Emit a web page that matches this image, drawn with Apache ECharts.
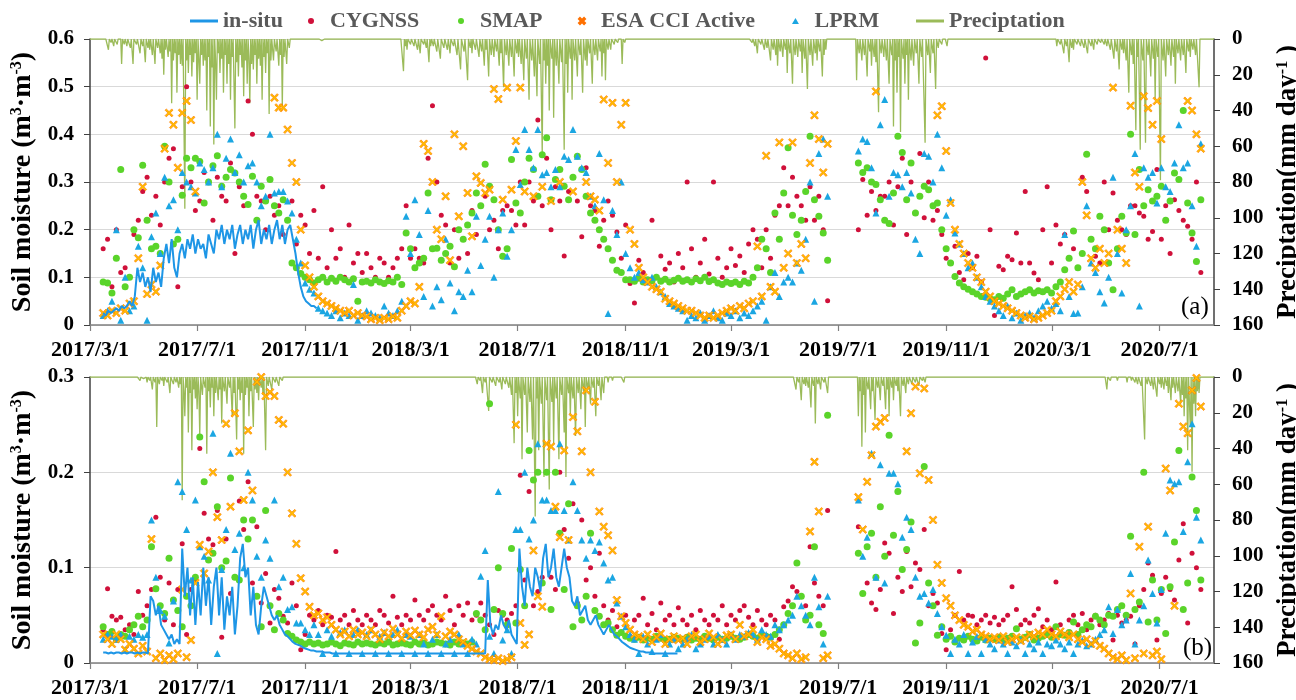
<!DOCTYPE html>
<html><head><meta charset="utf-8">
<script src="https://cdn.jsdelivr.net/npm/echarts@6/dist/echarts.min.js"></script>
<style>html,body{margin:0;padding:0;background:#fff}#c{width:1296px;height:700px}</style>
</head><body><div id="c"></div>
<script>
// ---------- tick labels ----------
const tickLabels = ['2017/3/1','2017/7/1','2017/11/1','2018/3/1','2018/7/1','2018/11/1','2019/3/1','2019/7/1','2019/11/1','2020/3/1','2020/7/1'];
const axisEnd = '2020/9/1';
const legendNames = ['in-situ','CYGNSS','SMAP','ESA CCI Active','LPRM','Preciptation'];
// satellite series: one value every 5 days starting 15 days after 2017/3/1
const satStart = 15, satStep = 5;
// in-situ: one value every 3 days starting 15 days after 2017/3/1
const insStart = 15, insStep = 3;

// ---------- panel (a) ----------
const cygnssA = [
.16,.18,.08,.2,.11,.12,.1,.19,.22,.28,.31,.23,
.27,.21,.3,.35,.37,.08,.29,.5,.3,.24,.26,.32,
.3,.22,.31,.27,.26,.34,.15,.29,.25,.47,.4,.27,
.26,.2,.27,.23,.25,.19,.22,.26,.17,.23,.21,.15,
.24,.14,.29,.12,.2,.14,.16,.1,.21,.13,.15,.11,
.15,.12,.1,.14,.13,.1,.12,.14,.16,.25,.14,.16,
.14,.13,.35,.46,.3,.23,.21,.13,.2,.14,.18,.15,
.24,.19,.25,.27,.2,.22,.16,.24,.25,.24,.21,.3,
.21,.3,.26,.43,.25,.35,.2,.29,.26,.145,.28,.31,
.26,.185,.33,.25,.24,.165,.22,.26,.23,.195,.14,.21,
.087,.046,.136,.11,.09,.22,.1,.145,.117,.13,.09,.15,
.12,.3,.16,.1,.13,.18,.107,.3,.14,.1,.12,.16,
.125,.145,.11,.17,.2,.18,.12,.2,.14,.23,.25,.33,
.25,.31,.27,.25,.22,.29,.22,.27,.2,.051,null,null,
null,null,null,null,.2,.305,.23,.28,.24,.27,.27,.3,
.21,.29,.35,.19,.3,.235,.36,.225,.3,.22,.24,.19,
.14,.13,.165,.11,.095,.15,.12,.144,.09,.56,.2,.02,
.123,.116,.144,.137,.193,.13,.28,.13,.109,.095,.2,.29,
.13,.21,.17,.19,.14,.16,.12,.31,.28,.18,.144,.13,
.3,.2,.277,.22,.2,.19,.25,.25,.235,.228,.18,.196,
.326,.18,.25,.15,.263,.24,.22,.207,.18,.3,.11,null];
const smapA = [
.09,.088,.067,.14,.326,.08,.1,.2,.183,.335,.22,.16,
.165,.15,.375,.3,.17,.18,.272,.35,.33,.35,.343,.256,
.3,.334,.355,.291,.31,.326,.319,.3,.27,.253,.312,.22,
.291,.26,.305,.25,.235,.263,.22,.13,.12,.108,.1,.095,
.088,.095,.1,.09,.098,.092,.1,.095,.09,.097,.05,.09,
.092,.088,.095,.09,.087,.093,.09,.1,.085,.193,.16,.12,
.13,.14,.277,.16,.161,.136,.15,.165,.122,.2,.18,.21,
.235,.277,.25,.337,.291,.263,.2,.144,.16,.347,.256,.235,
.3,.35,.326,.27,.357,.393,.263,.305,.326,.291,.263,.31,
.354,.326,.27,.235,.22,.2,.18,.16,.136,.115,.11,.095,
.095,.092,.098,.09,.095,.093,.1,.092,.096,.09,.094,.098,
.092,.095,.09,.097,.093,.1,.091,.095,.088,.085,.09,.087,
.09,.085,.092,.088,.1,.12,.18,.16,.11,.235,.18,.277,
.372,.23,.19,.22,.28,.396,.263,.228,.193,.136,null,null,
null,null,null,null,.34,.32,.33,.3,.295,.263,.22,.213,
.277,.396,.362,.263,.34,.235,.27,.291,.284,.25,.256,.2,
.16,.13,.102,.088,.08,.075,.07,.065,.06,.058,.055,.053,
.06,.056,.065,.074,.06,.065,.07,.074,.067,.072,.07,.074,
.067,.08,.09,.116,.14,.197,.12,.15,.358,.18,.16,.228,
.2,.13,.074,.16,.228,.193,.4,.19,.326,.25,.284,.26,
.27,.291,.22,.26,.319,.305,.45,.256,.193,.133,.263,null];
const esaA = [
.025,.02,.03,.025,.035,.03,.045,.05,.14,.29,.065,.085,
.07,.125,.37,.445,.42,.33,.445,.47,.43,.28,null,null,
null,null,null,null,null,null,null,null,null,null,null,null,
null,null,null,.477,.456,.456,.41,.34,.3,.2,.125,.1,
.08,.06,.05,.045,.04,.035,.03,.025,.03,.02,.025,.02,
.018,.012,.015,.01,.015,.012,.018,.015,.03,.04,.05,.045,
.08,.38,.365,.3,.2,.18,.27,.136,.4,.228,.375,.277,
.186,.312,.298,.277,.284,.495,.474,.263,.498,.284,.386,.498,
.28,null,.27,null,.29,null,.26,null,.3,null,null,.28,
null,null,.3,.27,.263,.24,.473,.34,.466,.3,.42,.466,
.2,.17,.12,.1,.09,.08,.075,.07,.055,.05,.045,.04,
.035,.03,.03,.025,.02,.015,.02,.015,.02,.025,.03,.035,
.03,.04,.035,.045,.05,.165,.06,.355,.08,.07,.383,.12,
.15,.383,.13,.17,.14,.34,.44,.39,.32,.38,null,null,
null,null,null,null,null,null,null,null,.49,null,null,null,
null,null,null,null,null,null,null,null,null,null,.44,.459,
.365,.256,.2,.17,.15,.13,.12,.1,.09,.07,.06,.05,
.045,.04,.035,.03,.025,.02,.015,.018,.012,.015,.02,.025,
.03,.05,.06,.075,.09,.07,.085,.3,.23,.14,.12,.16,
.13,.15,.498,.2,.16,.13,.46,.32,.29,.48,.455,.42,
.47,.39,null,null,null,null,null,.47,.45,.4,.37,null];
const lprmA = [
.02,.03,.05,.2,.01,.1,.03,.04,.165,.12,.01,.185,
.235,.15,.31,.25,.263,.2,.32,.3,.29,.277,.34,.326,
.3,.33,.4,.29,.35,.39,.32,.357,.3,.334,.34,.3,
.25,.27,.4,.277,.28,.28,.26,.235,.18,.13,.088,.075,
.067,.035,.03,.025,.02,.03,.015,.025,.02,.085,.01,.02,
.03,.025,.02,.015,.04,.025,.02,.03,.05,.228,.15,.263,
.19,.06,.24,.04,.08,.053,.18,.088,.03,.07,.06,.115,
.07,.228,.125,.18,.228,.1,.2,.235,.144,.2,.368,.295,
.41,.368,.33,.41,.315,.32,.29,.326,.29,.354,.347,.41,
.354,.33,.32,.27,.25,.36,.263,.024,.24,.19,.3,.15,
.12,.1,.11,.095,.09,.1,.08,.07,.06,.045,.04,.035,
.03,.01,.02,.015,.025,.01,.02,.03,.015,.01,.025,.02,
.03,.015,.025,.02,.03,.04,.05,.01,.08,.11,.06,.09,
.1,.09,.13,.115,.18,.3,.05,.36,.39,.27,null,null,
null,null,null,null,.365,.39,.385,.33,.235,.42,.473,.27,
.32,.315,.29,.32,.277,.18,.15,.36,.354,.3,.4,.33,
.23,.263,.193,.17,.15,.12,.13,.1,.08,.06,.05,.04,
.03,.02,.04,.015,.025,.01,.02,.025,.015,.03,.04,.05,
.035,.045,.03,.19,.06,.024,.025,.08,.25,.13,.11,.07,
.046,.1,.31,.15,.067,.2,.25,.36,.04,.33,.31,.32,
.256,.33,.29,.28,.34,.42,.33,.34,.25,.165,.38,null];
const insituA = [
.025,.02,.03,.025,.03,.035,.03,.04,.035,.04,.05,.04,.06,
.12,.09,.11,.08,.1,.07,.12,.09,.11,.08,
.14,.17,.13,.18,.12,.1,.15,.17,.14,.18,.16,.19,.15,.18,.16,.17,.14,.19,.17,.15,.2,.18,.21,.17,.2,.18,.21,.16,.19,.21,.17,.2,.18,.21,.16,.2,.22,.17,.2,.18,.21,.17,.2,.22,.18,.21,.17,.2,.21,.18,
.15,.11,.08,.06,.05,.045,.04,.04,.035];
// precipitation events [day since 2017/3/1, mm]
const precipA = [
[21,6],[24,2],[27,4],[31,3],[36,14],[39,3],[42,4],[46,5],[49,14],[53,3],[57,8],[60,4],[63,13],[66,5],[68,6],[71,9],[74,14],[77,5],[80,8],[82,11],[84,20],[86,6],[89,10],[91,7],[93,36],[95,12],[97,8],[99,30],[101,9],[103,14],[105,15],[108,95],[110,12],[112,19],[114,9],[116,21],[118,13],[120,8],[122,34],[124,11],[125,25],[127,9],[129,15],[131,12],[133,40],[135,10],[137,49],[139,16],[141,59],[143,12],[144,34],[146,8],[148,19],[150,11],[152,30],[154,9],[156,25],[158,14],[160,34],[162,10],[165,50],[167,13],[169,21],[171,9],[173,16],[175,32],[177,12],[179,25],[181,10],[182,36],[184,14],[186,17],[188,9],[190,25],[192,11],[194,15],[196,34],[198,10],[200,19],[202,8],[204,42],[206,12],[209,12],[212,7],[215,15],[217,9],[219,38],[221,10],[224,14],[227,5],[264,1],[296,1],
[357,18],[359,4],[361,6],[365,3],[369,4],[373,6],[376,8],[380,3],[383,5],[386,13],[388,4],[391,4],[395,7],[399,11],[403,5],[407,6],[410,8],[414,4],[418,9],[422,17],[426,7],[430,23],[433,5],[435,8],[439,6],[443,10],[446,7],[449,15],[451,6],[454,21],[457,9],[460,10],[463,7],[466,15],[468,8],[471,27],[474,9],[477,15],[480,10],[483,21],[486,8],[488,10],[491,14],[494,23],[497,11],[500,34],[503,12],[506,21],[509,32],[512,14],[515,64],[517,12],[519,25],[521,15],[523,40],[526,11],[528,44],[531,15],[534,25],[537,13],[540,62],[542,14],[544,30],[547,11],[549,34],[552,12],[555,21],[558,9],[561,30],[564,12],[566,15],[569,8],[572,25],[575,9],[578,12],[581,7],[583,21],[585,8],[587,23],[590,6],[593,6],[597,3],[601,2],[606,14],[609,2],
[754,2],[757,4],[760,8],[764,3],[768,6],[771,5],[775,12],[778,6],[781,9],[783,15],[786,7],[789,10],[792,6],[794,19],[797,8],[800,25],[803,9],[806,10],[809,7],[811,19],[814,11],[817,28],[820,9],[823,15],[826,8],[828,12],[831,7],[834,21],[836,9],[838,6],
[873,23],[876,8],[879,12],[882,9],[885,21],[888,7],[890,15],[893,10],[895,13],[898,41],[901,8],[904,10],[907,12],[910,25],[913,9],[915,49],[917,12],[919,30],[921,10],[923,52],[926,11],[928,25],[930,9],[932,34],[935,12],[938,15],[941,8],[944,25],[947,10],[951,58],[954,9],[957,19],[960,8],[963,28],[966,5],[970,3],[976,4],[987,1],[1060,1],
[1101,4],[1105,3],[1109,8],[1112,4],[1115,13],[1118,5],[1120,6],[1124,3],[1128,4],[1132,5],[1136,8],[1140,4],[1143,6],[1147,3],[1151,2],[1155,3],[1158,4],[1162,6],[1166,11],[1169,7],[1172,17],[1175,6],[1177,8],[1180,12],[1183,30],[1186,9],[1188,14],[1191,51],[1193,10],[1196,62],[1199,12],[1202,58],[1205,9],[1208,21],[1211,11],[1213,34],[1216,10],[1219,79],[1222,12],[1225,21],[1228,9],[1231,15],[1234,10],[1236,25],[1239,8],[1242,12],[1245,9],[1248,19],[1251,7],[1253,10],[1256,6],[1259,9],[1263,27]];

// ---------- panel (b) ----------
const cygnssB = [
.035,.078,.049,.045,.048,.035,.04,.03,.075,.05,.06,.077,
.153,.09,.045,.084,.04,.077,.125,.03,.077,.087,.225,.157,
.13,.124,.16,.027,.13,.073,.09,.17,.14,.19,.084,.143,
.063,.094,.042,.077,.068,.049,.042,.084,.06,.014,.03,.05,
.045,.055,.04,.05,.048,.117,.045,.05,.04,.055,.045,.04,
.05,.045,.04,.055,.05,.042,.07,.048,.04,.05,.045,.066,
.05,.045,.055,.06,.05,.045,.07,.055,.04,.06,.05,.063,
.045,.05,.063,.05,.04,.03,.055,.05,.045,.052,.06,.197,
.087,.18,.06,.075,.09,.2,.09,.077,.2,.14,.11,.167,
.063,.15,.087,.1,.07,.115,.06,.045,.055,.038,.049,.05,
.028,.045,.05,.068,.04,.052,.035,.063,.045,.05,.04,.058,
.045,.04,.05,.035,.055,.045,.04,.05,.045,.06,.04,.05,
.045,.055,.06,.048,.04,.055,.045,.04,.05,.045,.025,.059,
.065,.08,.075,.07,.06,.122,.084,.07,.06,.16,null,null,
null,null,null,null,.143,.073,.084,.063,.056,.077,.126,.115,
.052,.09,.075,.117,.08,.105,.098,.14,.06,.073,.063,.031,
.014,.035,.05,.096,.045,.05,.049,.04,.045,.05,.042,.048,
.04,.045,.05,.08,.056,.04,.045,.042,.05,.057,.038,.045,
.035,.085,.04,.03,.045,.05,.04,.052,.035,.045,.05,.04,
.045,.052,.024,.05,.042,.045,.049,.02,.06,.077,.105,.092,
.024,.073,.09,.077,.066,.108,.146,.042,.115,.1,.077,null];
const smapB = [
.038,.03,.033,.025,.03,.028,.035,.04,.049,.038,.045,.122,
.078,.06,.052,.11,.066,.055,.038,.07,.06,.09,.237,.19,
.108,.115,.164,.1,.107,.194,.09,.087,.15,.13,.15,.07,
.038,.16,.06,.035,.052,.045,.031,.028,.024,.022,.02,.022,
.02,.021,.019,.02,.022,.02,.018,.021,.02,.019,.022,.02,
.021,.02,.019,.021,.02,.022,.019,.02,.021,.02,.019,.022,
.02,.021,.019,.02,.022,.021,.02,.019,.022,.02,.021,.02,
.022,.052,.045,.035,.272,.056,.1,.052,.04,.12,.042,.098,
.06,.223,.192,.2,.084,.2,.056,.2,.136,.077,.167,.038,
.06,.045,.07,.136,.055,.049,.04,.042,.035,.029,.032,.028,
.026,.025,.027,.024,.026,.025,.028,.026,.024,.025,.027,.026,
.025,.027,.024,.026,.025,.028,.026,.024,.027,.025,.026,.028,
.026,.025,.027,.03,.028,.026,.03,.028,.027,.03,.035,.04,
.052,.06,.105,.07,.045,.05,.122,.04,.031,.26,null,null,
null,null,null,null,.115,.073,.122,.136,.09,.164,.112,.239,
.134,.18,.098,.119,.148,.021,.042,.206,.084,.06,.029,.038,
.025,.028,.022,.026,.024,.028,.025,.023,.027,.024,.026,.025,
.027,.024,.026,.028,.036,.025,.027,.03,.024,.026,.028,.03,
.027,.038,.03,.029,.032,.043,.03,.035,.04,.038,.049,.045,
.04,.05,.049,.056,.06,.05,.133,.056,.064,.2,.043,.087,
.045,.077,.031,.08,.127,.223,.056,.084,.195,.16,.087,null];
const esaB = [
.03,.025,.02,.03,.025,.014,.02,.015,.01,.018,.012,.13,
.005,.01,.003,.008,.004,.01,.077,.006,.024,.084,.124,.094,
.117,.2,.153,.129,.251,.164,.262,.222,.171,.244,.181,.295,
.3,.28,.284,.28,.255,.251,.2,.157,.125,.089,.075,.059,
.05,.052,.045,.048,.04,.035,.03,.033,.028,.035,.03,.032,
.028,.035,.03,.025,.032,.028,.036,.03,.026,.033,.029,.034,
.03,.027,.035,.038,.03,.049,.028,.033,.03,.025,.022,.018,
.015,.012,.01,.006,.004,.003,.005,.002,.004,.006,.25,.042,
.019,.03,.118,.07,.059,.23,.227,.164,.132,.223,.129,.258,
.243,.222,.286,.2,.274,.159,.143,.134,.118,.066,.049,.042,
.035,.03,.028,.025,.03,.022,.027,.031,.02,.025,.028,.024,
.026,.02,.028,.03,.022,.025,.031,.027,.02,.024,.029,.03,
.025,.04,.028,.03,.035,.022,.027,.025,.018,.02,.015,.01,
.008,.005,.01,.004,.006,.138,.211,.159,.005,.008,null,null,
null,null,null,null,.174,.14,.19,.218,.248,.253,.257,null,
null,null,null,.222,.262,.29,.199,.288,.192,.15,.103,.084,
.068,.06,.05,.045,.04,.038,.033,.035,.03,.028,.025,.027,
.024,.028,.022,.025,.027,.023,.026,.03,.028,.032,.03,.035,
.03,.028,.033,.03,.027,.03,.025,.022,.025,.02,.023,.018,
.015,.01,.006,.004,.008,.003,.073,.005,.122,.01,.143,.008,
.012,.004,.204,.181,.06,.272,.248,.241,.286,.299,.269,null];
const lprmB = [
.025,.03,.028,.025,.03,.014,.028,.025,.03,.027,.03,.15,
.09,.055,.049,.021,.065,.19,.18,.14,.087,.171,.122,.112,
.087,.241,.01,.098,.14,.22,.119,.136,.1,.2,.171,.112,
.09,.129,.11,.171,.08,.09,.056,.059,.042,.042,.035,.03,
.04,.03,.01,.035,.028,.01,.032,.035,.01,.03,.035,.01,
.03,.035,.01,.028,.032,.01,.03,.035,.01,.03,.028,.01,
.03,.02,.01,.025,.03,.01,.02,.025,.01,.03,.02,.01,
.025,.02,.091,.118,.028,.01,.18,.024,.035,.01,.14,.14,
.2,.13,.15,.23,.171,.171,.16,.16,.23,.16,.129,.19,
.16,.129,.11,.129,.118,.127,.105,.087,.09,.063,.049,.038,
.03,.025,.01,.028,.02,.012,.025,.03,.01,.02,.025,.015,
.02,.025,.03,.015,.02,.025,.028,.02,.03,.025,.02,.03,
.025,.03,.028,.032,.03,.025,.035,.03,.028,.04,.035,.04,
.045,.05,.07,.06,.05,.04,.09,.059,.02,.07,null,null,
null,null,null,null,.171,.112,.132,.22,.09,.208,.084,.199,
.199,.188,.132,.153,.14,.09,.07,.073,.063,.077,.052,.038,
.029,.01,.025,.02,.03,.01,.022,.028,.01,.025,.02,.015,
.024,.02,.01,.022,.018,.024,.01,.02,.015,.022,.01,.02,
.018,.024,.02,.015,.022,.01,.02,.024,.018,.02,.025,.03,
.035,.059,.031,.056,.04,.045,.094,.02,.045,.06,.108,.073,
.042,.077,.136,.192,.188,.19,.138,.211,.251,.153,.129,null];
const insituB = [
.011,.011,.01,.011,.01,.011,.011,.01,.011,.01,.011,.011,.01,.011,.01,.011,.011,.01,
.07,.065,.05,.06,.04,.035,.03,.025,.03,.02,.025,.02,
.12,.07,.1,.05,.09,.04,.085,.05,.1,.06,.09,.04,.08,.1,.05,.09,.035,.07,.05,.08,.03,.06,.11,.125,
.09,.1,.05,.08,.04,.03,.06,.08,.07,.06,.05,.045,.05,.04,.035,.03,.028,.025,.022,.02,.019,.018,.016,.015,.014,.013,.013,.012,.012,.012,.011,.011,.011,
.01,.01,.01,.01,.01,.01,.01,.01,.01,.01,.01,.01,.01,.01,.01,.01,.01,.01,.01,.01,.01,.01,.01,.01,.01,.01,.01,.01,.01,.01,
.01,.01,.01,.01,.01,.01,.01,.01,.01,.01,.01,.01,.01,.01,.01,.01,.01,.01,.01,.01,.01,.01,.01,.01,.01,.01,.01,.01,.01,
.087,.04,.03,.04,.035,.05,.04,.035,.045,.03,.025,.02,.12,.08,.06,.1,.08,.07,.1,.09,.075,.11,.125,.09,.1,.12,.09,.08,.1,.12,.1,.09,.065,.06,.07,.05,.055,.06,.045,.04,.045,.05,.04,.035,.03,.035,.04,.035,.03,.028,.025,.022,.02,.018,.016,.015,.014,.013,
.012,.012,.011,.011,.011,.01,.01,.01,.01,.01,.01,.01,.01,.01,.01];
const precipB = [
[57,2],[61,1],[65,3],[68,2],[71,7],[74,3],[76,28],[79,4],[82,2],[84,5],[88,3],[91,9],[95,4],[98,3],[101,6],[103,4],[105,69],[107,8],[108,22],[110,6],[112,31],[114,9],[116,41],[118,7],[120,12],[122,18],[124,8],[125,33],[128,10],[131,6],[133,43],[135,8],[137,17],[139,6],[141,22],[143,9],[146,13],[148,7],[150,26],[153,8],[156,15],[159,6],[162,22],[164,9],[167,35],[169,7],[171,13],[173,9],[175,43],[177,10],[179,6],[181,22],[183,8],[186,28],[188,7],[190,9],[192,13],[195,6],[197,10],[200,41],[203,5],[207,7],[211,3],[215,5],[219,2],
[441,4],[444,2],[447,9],[450,3],[454,19],[458,3],[462,5],[466,3],[469,7],[473,4],[477,6],[480,10],[483,37],[485,9],[487,22],[490,12],[492,46],[495,10],[498,31],[501,14],[504,35],[507,78],[509,12],[511,41],[514,15],[517,56],[520,13],[523,63],[526,14],[528,37],[531,12],[534,46],[537,10],[540,31],[542,56],[545,9],[547,22],[550,12],[553,33],[556,9],[559,18],[562,8],[564,28],[567,7],[570,15],[573,6],[576,22],[579,5],[582,13],[585,9],[590,3],[595,2],[608,3],
[804,7],[807,3],[810,13],[813,4],[815,5],[818,6],[821,17],[824,5],[826,26],[829,4],[832,7],[836,3],[840,9],
[875,22],[877,8],[879,39],[881,10],[883,31],[886,7],[889,18],[891,8],[894,24],[897,6],[900,13],[903,5],[906,18],[908,7],[910,22],[913,6],[915,13],[918,5],[920,8],[923,22],[926,5],[929,9],[932,4],[936,4],[940,3],[944,5],[948,2],[951,3],
[1158,7],[1162,2],[1170,2],[1181,3],[1186,2],[1190,3],[1193,4],[1197,5],[1201,35],[1204,4],[1208,5],[1211,7],[1215,11],[1218,4],[1220,6],[1223,7],[1226,5],[1228,9],[1231,13],[1233,6],[1236,9],[1239,8],[1242,15],[1244,10],[1246,22],[1248,12],[1250,41],[1252,14],[1253,28],[1255,53],[1257,15],[1259,22],[1261,8],[1263,9]];

// ---------- build ----------
const FONT = '"Liberation Serif","Times New Roman",serif';
function dayOf(s){const p=s.split('/').map(Number);return Math.round((Date.UTC(p[0],p[1]-1,p[2])-Date.UTC(2017,2,1))/864e5);}
const tickDays = tickLabels.map(dayOf);
const xMax = dayOf(axisEnd);
function seq(vals,start,step){return vals.map((v,i)=>[start+i*step,v]);}
function dailyPrecip(ev){const a=new Array(xMax+1).fill(0);ev.forEach(e=>{a[e[0]]=e[1];});return a.map((v,i)=>[i,v]);}

const X_PATH='path://M0,1.6 L1.6,0 L5,3.4 L8.4,0 L10,1.6 L6.6,5 L10,8.4 L8.4,10 L5,6.6 L1.6,10 L0,8.4 L3.4,5 Z';
const LINE_ICON='path://M0,0 L28,0 L28,3 L0,3 Z';
const TRI_ICON='path://M5,0 L10,8.66 L0,8.66 Z';
const C = {ins:'#1E96E6', cyg:'#D0103A', smap:'#5AD42A', esa:'#FFC000', esaB:'#FF7000', lprm:'#1BA6E2', pre:'#9BBB59'};
const legendIcons = [LINE_ICON,'circle','circle',X_PATH,TRI_ICON,LINE_ICON];
const legendLeft = [190,308,458,578,792,916];

function xAxis(gi){return {type:'value',gridIndex:gi,min:0,max:xMax,
  axisLine:{show:true,lineStyle:{color:'#808080',width:1.5}},
  axisTick:{show:true,customValues:tickDays,length:6,lineStyle:{color:'#808080',width:1.2}},
  axisLabel:{customValues:tickDays,margin:14,fontFamily:FONT,fontWeight:'bold',fontSize:22,color:'#000',
    formatter:v=>{const i=tickDays.indexOf(Math.round(v));return i>=0?tickLabels[i]:'';}},
  splitLine:{show:false}};}
const supRich={sup:{fontFamily:FONT,fontSize:16,fontWeight:'bold',color:'#000',verticalAlign:'top'}};
function yLeft(gi,max){return {type:'value',gridIndex:gi,min:0,max:max,interval:0.1,position:'left',
  name:'Soil moisture (m{sup|3}·m{sup|-3})',nameLocation:'middle',nameGap:50,
  nameTextStyle:{fontFamily:FONT,fontSize:28,fontWeight:'bold',color:'#000',rich:supRich},
  axisLine:{show:true,lineStyle:{color:'#404040',width:1.5}},
  axisTick:{show:true,length:6,lineStyle:{color:'#404040'}},
  axisLabel:{margin:16,fontFamily:FONT,fontWeight:'bold',fontSize:21,color:'#000',formatter:v=>v===0?'0':String(+v.toFixed(1))},
  splitLine:{show:true,lineStyle:{color:'#d9d9d9',width:1}}};}
function yRight(gi){return {type:'value',gridIndex:gi,min:0,max:160,interval:20,inverse:true,position:'right',
  name:'Preciptation(mm day{sup|-1} )',nameLocation:'middle',nameGap:46,
  nameTextStyle:{fontFamily:FONT,fontSize:27,fontWeight:'bold',color:'#000',rich:supRich},
  axisLine:{show:true,lineStyle:{color:'#404040',width:1.5}},
  axisTick:{show:true,length:6,lineStyle:{color:'#404040'}},
  axisLabel:{margin:18,fontFamily:FONT,fontWeight:'bold',fontSize:21,color:'#000'},
  splitLine:{show:false}};}

function scat(name,vals,xi,yi,symbol,size,color,border){
  return {name,type:'scatter',xAxisIndex:xi,yAxisIndex:yi,data:seq(vals,satStart,satStep),
    symbol,symbolSize:size,itemStyle:{color,opacity:1,borderColor:border||color,borderWidth:border?0.6:0},
    emphasis:{disabled:true},animation:false};}
function panel(xi,yl,yr,cyg,smap,esa,lprm,ins,pre){
  return [
    {name:'Preciptation',type:'line',xAxisIndex:xi,yAxisIndex:yr,data:dailyPrecip(pre),symbol:'none',
     lineStyle:{color:C.pre,width:1.3},itemStyle:{color:C.pre},emphasis:{disabled:true},z:1},
    scat('CYGNSS',cyg,xi,yl,'circle',5,C.cyg),
    scat('SMAP',smap,xi,yl,'circle',7,C.smap),
    scat('LPRM',lprm,xi,yl,'triangle',7,C.lprm),
    scat('ESA CCI Active',esa,xi,yl,X_PATH,8,C.esa,C.esaB),
    {name:'in-situ',type:'line',xAxisIndex:xi,yAxisIndex:yl,data:seq(ins,insStart,insStep),symbol:'none',
     lineStyle:{color:C.ins,width:2},itemStyle:{color:C.ins},emphasis:{disabled:true},z:3}
  ];
}

const legends = legendNames.map((n,i)=>({
  left:legendLeft[i],top:10,padding:0,itemWidth:28,itemHeight:6,
  data:[{name:n,icon:legendIcons[i]}],
  textStyle:{fontFamily:FONT,fontWeight:'bold',fontSize:22,color:'#595959'}
}));

const chart = echarts.init(document.getElementById('c'),null,{renderer:'canvas'});
chart.setOption({
  animation:false,
  backgroundColor:'#fff',
  title:[
    {text:'(a)',left:1176,top:290,textStyle:{fontFamily:FONT,fontWeight:'normal',fontSize:25,color:'#000'}},
    {text:'(b)',left:1178,top:631,textStyle:{fontFamily:FONT,fontWeight:'normal',fontSize:25,color:'#000'}}
  ],
  legend:legends,
  grid:[
    {left:90,right:82,top:39,height:286,outerBoundsMode:'none'},
    {left:90,right:82,top:377,height:286,outerBoundsMode:'none'}
  ],
  xAxis:[xAxis(0),xAxis(1)],
  yAxis:[yLeft(0,0.6),yRight(0),yLeft(1,0.3),yRight(1)],
  series:[].concat(
    panel(0,0,1,cygnssA,smapA,esaA,lprmA,insituA,precipA),
    panel(1,2,3,cygnssB,smapB,esaB,lprmB,insituB,precipB))
});
</script></body></html>
